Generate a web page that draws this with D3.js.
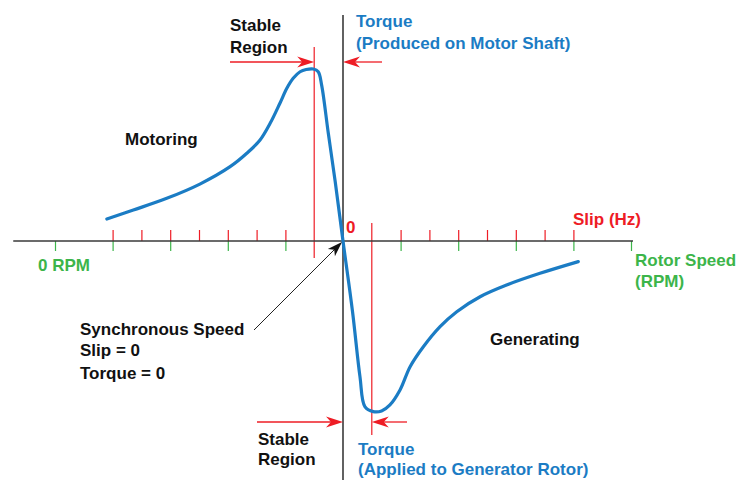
<!DOCTYPE html>
<html>
<head>
<meta charset="utf-8">
<script src="https://cdn.jsdelivr.net/npm/d3@7/dist/d3.min.js"></script>
<style>
  html, body { margin: 0; padding: 0; background: #fff; }
  svg text { font-family: "Liberation Sans", Arial, Helvetica, sans-serif; font-weight: bold; font-size: 17px; }
</style>
</head>
<body>
<svg id="chart" width="748" height="480"></svg>
<script>
// ---- data (slip units: one red tick = 1; torque in % of peak) ----
const slipTicks   = [-8, -7, -6, -5, -4, -3, -2, 2, 3, 4, 5, 6, 7, 8];
const speedTicks  = [-10, -8, -6, -4, -2, 0, 2, 4, 6, 8, 10];
const stableBounds = [-1, 1];
const curveSlip   = [-8.20, -7.28, -6.12, -4.97, -3.92, -3.34, -2.88, -2.53, -2.19, -1.95, -1.73, -1.49, -1.28, -1.03, -0.86, -0.74, -0.51, -0.27, 0,
                     0.33, 0.59, 0.76, 1.05, 1.34, 1.63, 1.98, 2.33, 2.79, 3.37, 3.95, 4.76, 5.68, 6.84, 8.17];
const curveTorque = [12.8, 18.0, 24.8, 33.1, 43.2, 51.0, 58.7, 68.4, 80.1, 88.8, 94.6, 98.4, 99.7, 100, 98.4, 90.5, 62.6, 34.5, 0,
                     -41, -79, -96.3, -99.2, -98.8, -95.3, -86.6, -73.1, -61.5, -49.8, -41.1, -32.4, -25.6, -18.8, -12.0];
const hAxisExtent = [-11.45, 10.07];
const vAxisExtent = [-139, 131.4];

const BLUE = "#1b7cc4", RED = "#ee1c25", GREEN = "#3cb54a", AXIS = "#3a3a3a";

const svg = d3.select("#chart");
const x = d3.scaleLinear().domain([-10, 10]).range([55, 631]);
const y = d3.scaleLinear().domain([-100, 100]).range([413, 69]);
const y0 = y(0), xz = x(0);

// green ticks (rotor speed) below axis
svg.append("g").attr("transform", `translate(0,${y0})`)
  .call(d3.axisBottom(x).tickValues(speedTicks).tickSize(10).tickFormat(""))
  .call(g => g.select(".domain").remove())
  .call(g => g.selectAll("line").attr("stroke", GREEN).attr("stroke-width", 1.2));

// red ticks (slip) above axis
svg.append("g").attr("transform", `translate(0,${y0})`)
  .call(d3.axisTop(x).tickValues(slipTicks).tickSize(11).tickFormat(""))
  .call(g => g.select(".domain").remove())
  .call(g => g.selectAll("line").attr("stroke", RED).attr("stroke-width", 1.2));

// stable region boundary lines
svg.append("line").attr("x1", x(stableBounds[0])).attr("x2", x(stableBounds[0]))
  .attr("y1", 47).attr("y2", 258).attr("stroke", RED).attr("stroke-width", 1.2);
svg.append("line").attr("x1", x(stableBounds[1])).attr("x2", x(stableBounds[1]))
  .attr("y1", 223).attr("y2", 435).attr("stroke", RED).attr("stroke-width", 1.2);

// axes lines
svg.append("line").attr("x1", x(hAxisExtent[0])).attr("x2", x(hAxisExtent[1]))
  .attr("y1", y0).attr("y2", y0).attr("stroke", AXIS).attr("stroke-width", 1.6);
svg.append("line").attr("x1", xz).attr("x2", xz)
  .attr("y1", y(vAxisExtent[1])).attr("y2", y(vAxisExtent[0])).attr("stroke", AXIS).attr("stroke-width", 1.6);

// curve
const pts = curveSlip.map((s, i) => [s, curveTorque[i]]);
svg.append("path").datum(pts)
  .attr("d", d3.line().x(d => x(d[0])).y(d => y(d[1])).curve(d3.curveCatmullRom.alpha(0.5)))
  .attr("fill", "none").attr("stroke", BLUE).attr("stroke-width", 3.2)
  .attr("stroke-linejoin", "round").attr("stroke-linecap", "round");

// red arrows
function arrow(x1, x2, yy, color) {
  const dir = Math.sign(x2 - x1);
  svg.append("line").attr("x1", x1).attr("x2", x2 - dir * 10).attr("y1", yy).attr("y2", yy)
    .attr("stroke", color).attr("stroke-width", 1.3);
  const L = 17, W = 5.5, N = 12;
  svg.append("path")
    .attr("d", `M${x2},${yy} L${x2 - dir * L},${yy - W} L${x2 - dir * N},${yy} L${x2 - dir * L},${yy + W} Z`)
    .attr("fill", color);
}
arrow(230, x(stableBounds[0]), 62, RED);
arrow(382, xz, 62, RED);
arrow(257, xz, 422, RED);
arrow(407, x(stableBounds[1]), 422, RED);

// pointer arrow to synchronous speed
(function () {
  const sx = 254, sy = 330, tx = xz - 1, ty = y0 + 1;
  const ang = Math.atan2(ty - sy, tx - sx);
  const L = 15, W = 5, N = 11;
  const ux = Math.cos(ang), uy = Math.sin(ang), px = -uy, py = ux;
  svg.append("line").attr("x1", sx).attr("y1", sy).attr("x2", tx - ux * 10).attr("y2", ty - uy * 10)
    .attr("stroke", "#222").attr("stroke-width", 1);
  const bx = tx - ux * L, by = ty - uy * L, nx = tx - ux * N, ny = ty - uy * N;
  svg.append("path")
    .attr("d", `M${tx},${ty} L${bx + px * W},${by + py * W} L${nx},${ny} L${bx - px * W},${by - py * W} Z`)
    .attr("fill", "#111");
})();

// texts
function txt(s, tx, ty, color) {
  svg.append("text").attr("x", tx).attr("y", ty).attr("fill", color || "#111").text(s);
}
txt("Stable", 230, 31);
txt("Region", 230, 53);
txt("Torque", 356, 27, BLUE);
txt("(Produced on Motor Shaft)", 356, 49, BLUE);
txt("Motoring", 125, 145);
txt("0", 346, 233, RED);
txt("Slip (Hz)", 573, 225, RED);
txt("Rotor Speed", 635, 266, GREEN);
txt("(RPM)", 635, 287, GREEN);
txt("0 RPM", 38, 271, GREEN);
txt("Synchronous Speed", 80, 335);
txt("Slip = 0", 80, 356);
txt("Torque = 0", 80, 379);
txt("Generating", 490, 345);
txt("Stable", 258, 445);
txt("Region", 258, 465);
txt("Torque", 358, 455, BLUE);
txt("(Applied to Generator Rotor)", 358, 475, BLUE);
</script>
</body>
</html>
